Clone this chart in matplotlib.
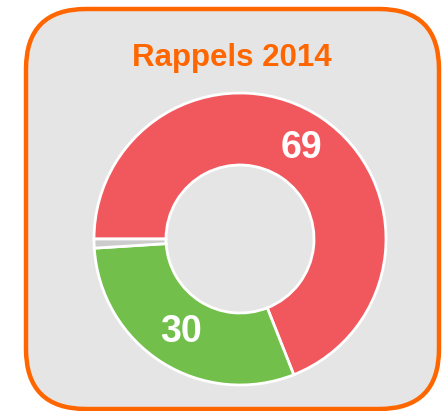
import matplotlib
matplotlib.use("Agg")
import matplotlib.pyplot as plt
from matplotlib.patches import FancyBboxPatch
import numpy as np

# data
labels = ["Rouge", "Vert", "Gris"]
values = [69, 30, 1]
colors = ["#f0585e", "#72bf4b", "#cccccc"]
title = "Rappels 2014"

W, H = 445, 411
fig = plt.figure(figsize=(W / 100, H / 100), dpi=100)
fig.patch.set_facecolor("white")
ax = fig.add_axes([0, 0, 1, 1])

# rounded card (pixel coords, y measured from the bottom)
card = FancyBboxPatch((26, H - 409), 413, 400,
                      boxstyle="round,pad=0,rounding_size=60",
                      facecolor="#e5e5e5", edgecolor="#ff6600", linewidth=3.2)
ax.add_patch(card)

cx, cy = 240, H - 239
r_out, r_in = 146, 74
wedges, _ = ax.pie(values, colors=colors, startangle=180, counterclock=False,
                   center=(cx, cy), radius=r_out,
                   wedgeprops=dict(width=r_out - r_in, edgecolor="white", linewidth=2))

# value labels in the middle of the ring, skip tiny slices
r_mid = (r_out + r_in) / 2
for w, v in zip(wedges, values):
    if v < 5:
        continue
    ang = np.deg2rad((w.theta1 + w.theta2) / 2)
    ax.text(cx + r_mid * np.cos(ang), cy + r_mid * np.sin(ang), str(v),
            ha="center", va="center", color="white", fontsize=27,
            fontweight="bold", family="Liberation Sans")

ax.text(232, H - 58, title, ha="center", va="center", color="#ff6600",
        fontsize=22.5, fontweight="bold", family="Liberation Sans")

ax.set_xlim(0, W)
ax.set_ylim(0, H)
ax.set_aspect("auto")
ax.axis("off")

fig.savefig("out.png", dpi=100)
